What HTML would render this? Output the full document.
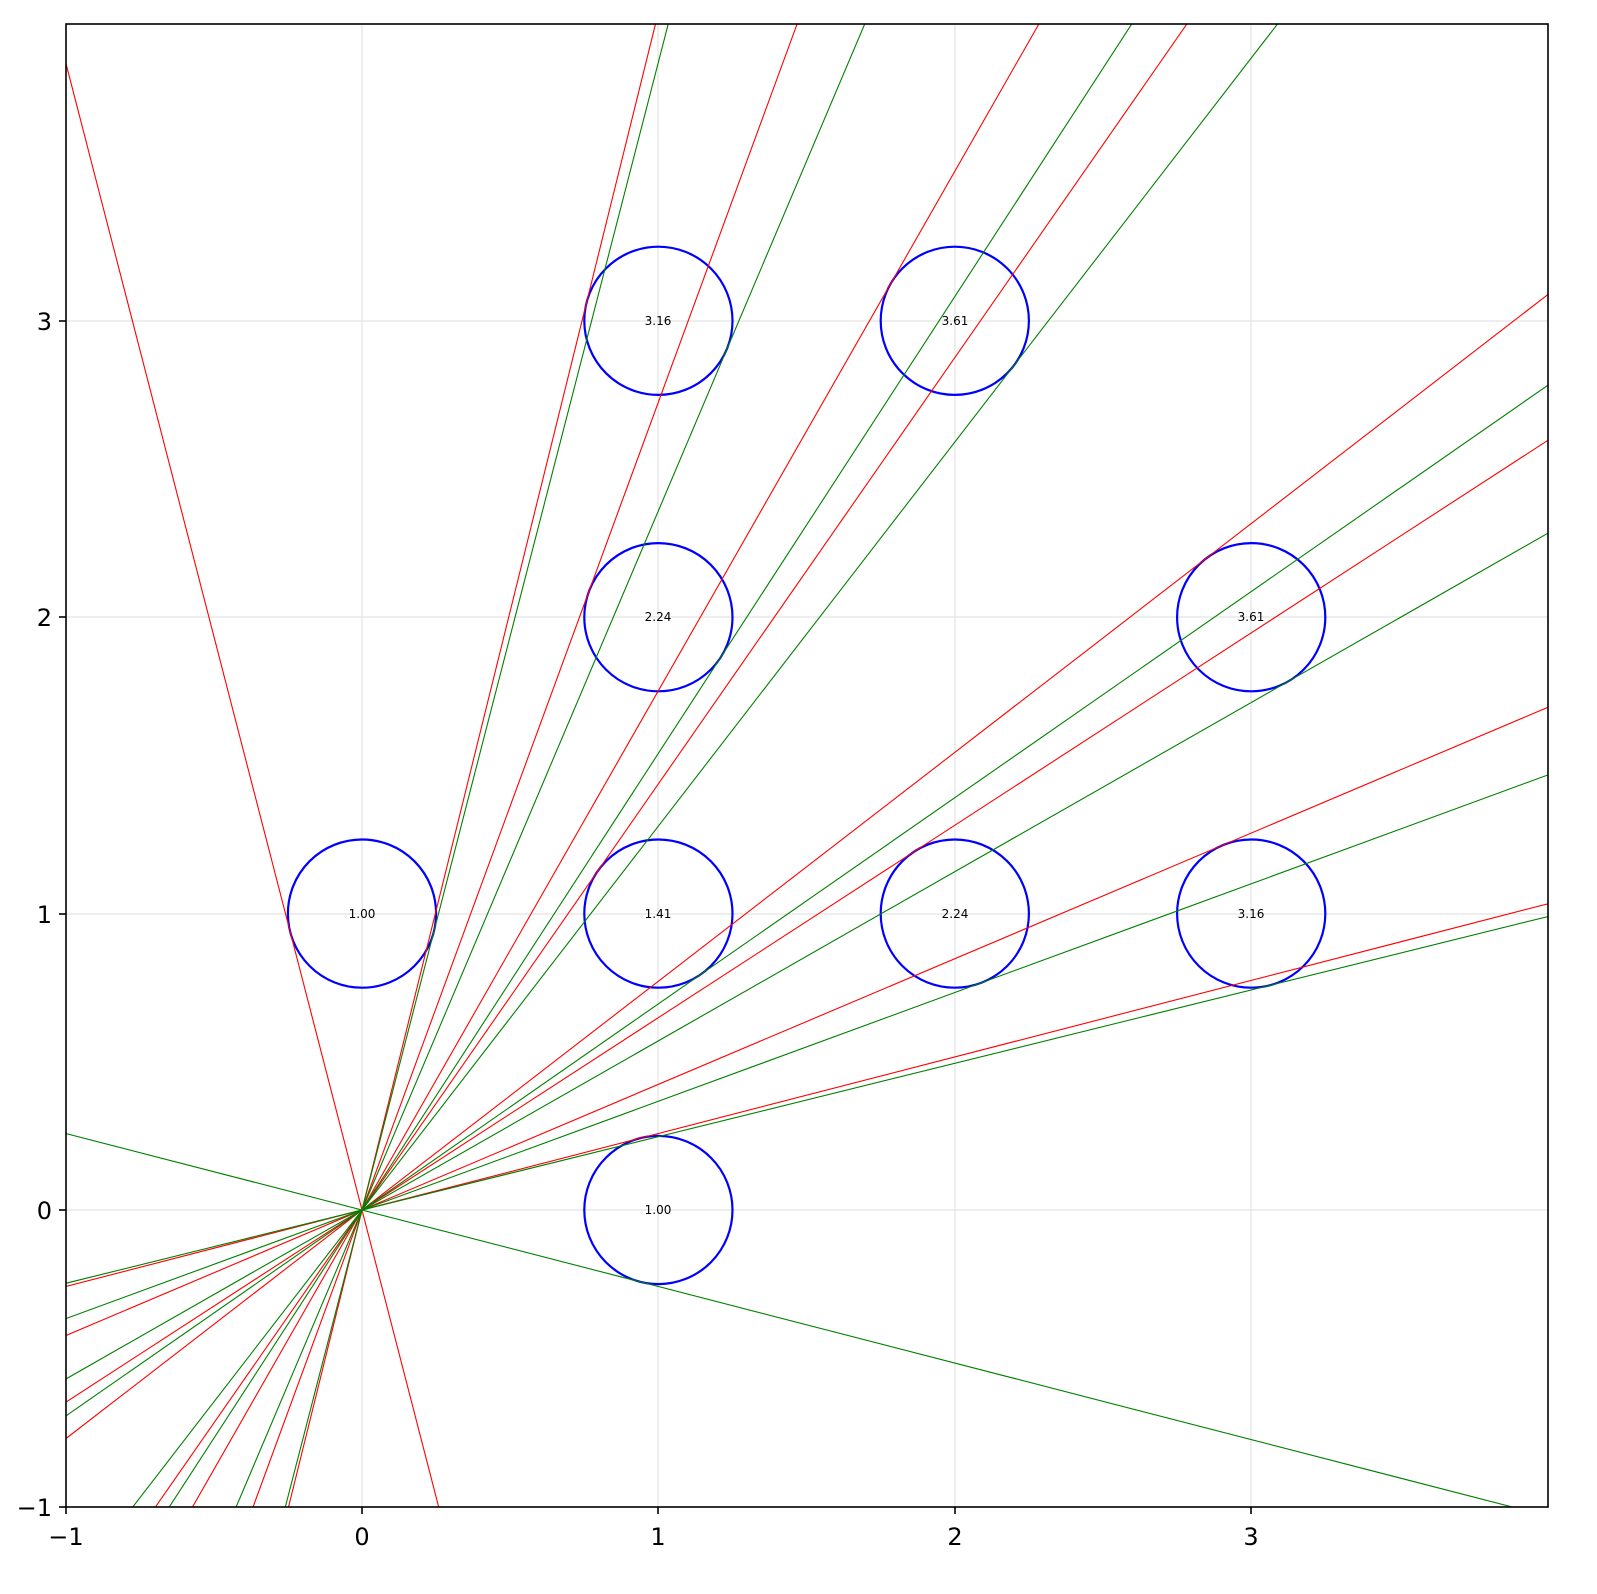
<!DOCTYPE html>
<html><head><style>html,body{margin:0;padding:0;background:#fff;overflow:hidden;width:1597px;height:1594px}svg{display:block}</style></head>
<body>
<svg width="1597" height="1594" xmlns="http://www.w3.org/2000/svg" font-family="'DejaVu Sans', 'Liberation Sans', sans-serif">
<defs><clipPath id="c"><rect x="66" y="24" width="1482" height="1483"/></clipPath></defs>
<rect width="1597" height="1594" fill="#fff"/>
<g stroke="#dddddd" stroke-width="1">
<line x1="362" y1="24" x2="362" y2="1507"/><line x1="658" y1="24" x2="658" y2="1507"/>
<line x1="955" y1="24" x2="955" y2="1507"/><line x1="1251" y1="24" x2="1251" y2="1507"/>
<line x1="66" y1="1210" x2="1548" y2="1210"/><line x1="66" y1="914" x2="1548" y2="914"/>
<line x1="66" y1="617" x2="1548" y2="617"/><line x1="66" y1="321" x2="1548" y2="321"/>
</g>
<g clip-path="url(#c)">
<g transform="translate(362,1210) scale(296.4,-296.4)" fill="none">
<g stroke="blue" stroke-width="2.2">
<circle cx="0" cy="1" r="0.25" vector-effect="non-scaling-stroke"/>
<circle cx="1" cy="0" r="0.25" vector-effect="non-scaling-stroke"/>
<circle cx="1" cy="1" r="0.25" vector-effect="non-scaling-stroke"/>
<circle cx="1" cy="2" r="0.25" vector-effect="non-scaling-stroke"/>
<circle cx="1" cy="3" r="0.25" vector-effect="non-scaling-stroke"/>
<circle cx="2" cy="1" r="0.25" vector-effect="non-scaling-stroke"/>
<circle cx="2" cy="3" r="0.25" vector-effect="non-scaling-stroke"/>
<circle cx="3" cy="1" r="0.25" vector-effect="non-scaling-stroke"/>
<circle cx="3" cy="2" r="0.25" vector-effect="non-scaling-stroke"/>
</g>
<g stroke="red" stroke-width="1.1">
<line x1="-20" y1="0" x2="20" y2="0" vector-effect="non-scaling-stroke" transform="rotate(104.478)"/>
<line x1="-20" y1="0" x2="20" y2="0" vector-effect="non-scaling-stroke" transform="rotate(14.478)"/>
<line x1="-20" y1="0" x2="20" y2="0" vector-effect="non-scaling-stroke" transform="rotate(55.182)"/>
<line x1="-20" y1="0" x2="20" y2="0" vector-effect="non-scaling-stroke" transform="rotate(69.854)"/>
<line x1="-20" y1="0" x2="20" y2="0" vector-effect="non-scaling-stroke" transform="rotate(76.101)"/>
<line x1="-20" y1="0" x2="20" y2="0" vector-effect="non-scaling-stroke" transform="rotate(32.984)"/>
<line x1="-20" y1="0" x2="20" y2="0" vector-effect="non-scaling-stroke" transform="rotate(60.286)"/>
<line x1="-20" y1="0" x2="20" y2="0" vector-effect="non-scaling-stroke" transform="rotate(22.971)"/>
<line x1="-20" y1="0" x2="20" y2="0" vector-effect="non-scaling-stroke" transform="rotate(37.666)"/>
</g>
<g stroke="green" stroke-width="1.1">
<line x1="-20" y1="0" x2="20" y2="0" vector-effect="non-scaling-stroke" transform="rotate(75.522)"/>
<line x1="-20" y1="0" x2="20" y2="0" vector-effect="non-scaling-stroke" transform="rotate(-14.478)"/>
<line x1="-20" y1="0" x2="20" y2="0" vector-effect="non-scaling-stroke" transform="rotate(34.818)"/>
<line x1="-20" y1="0" x2="20" y2="0" vector-effect="non-scaling-stroke" transform="rotate(57.016)"/>
<line x1="-20" y1="0" x2="20" y2="0" vector-effect="non-scaling-stroke" transform="rotate(67.029)"/>
<line x1="-20" y1="0" x2="20" y2="0" vector-effect="non-scaling-stroke" transform="rotate(20.146)"/>
<line x1="-20" y1="0" x2="20" y2="0" vector-effect="non-scaling-stroke" transform="rotate(52.334)"/>
<line x1="-20" y1="0" x2="20" y2="0" vector-effect="non-scaling-stroke" transform="rotate(13.899)"/>
<line x1="-20" y1="0" x2="20" y2="0" vector-effect="non-scaling-stroke" transform="rotate(29.714)"/>
</g>
</g>
</g>
<g font-size="12" text-anchor="middle" fill="#000">
<text x="362" y="918">1.00</text><text x="658" y="1214">1.00</text>
<text x="658" y="918">1.41</text><text x="658" y="621">2.24</text>
<text x="658" y="325">3.16</text><text x="955" y="918">2.24</text>
<text x="955" y="325">3.61</text><text x="1251" y="918">3.16</text>
<text x="1251" y="621">3.61</text>
</g>
<rect x="66" y="24" width="1482" height="1483" fill="none" stroke="#000" stroke-width="1.6"/>
<g stroke="#000" stroke-width="1.6">
<line x1="66" y1="1507" x2="66" y2="1514"/><line x1="362" y1="1507" x2="362" y2="1514"/>
<line x1="658" y1="1507" x2="658" y2="1514"/><line x1="955" y1="1507" x2="955" y2="1514"/>
<line x1="1251" y1="1507" x2="1251" y2="1514"/>
<line x1="59" y1="1507" x2="66" y2="1507"/><line x1="59" y1="1210" x2="66" y2="1210"/>
<line x1="59" y1="914" x2="66" y2="914"/><line x1="59" y1="617" x2="66" y2="617"/>
<line x1="59" y1="321" x2="66" y2="321"/>
</g>
<g font-size="24" fill="#000">
<g text-anchor="middle">
<text x="66" y="1545">−1</text><text x="362" y="1545">0</text><text x="658" y="1545">1</text>
<text x="955" y="1545">2</text><text x="1251" y="1545">3</text>
</g>
<g text-anchor="end">
<text x="52" y="1516">−1</text><text x="52" y="1219">0</text><text x="52" y="923">1</text>
<text x="52" y="626">2</text><text x="52" y="330">3</text>
</g>
</g>
</svg>
</body></html>
